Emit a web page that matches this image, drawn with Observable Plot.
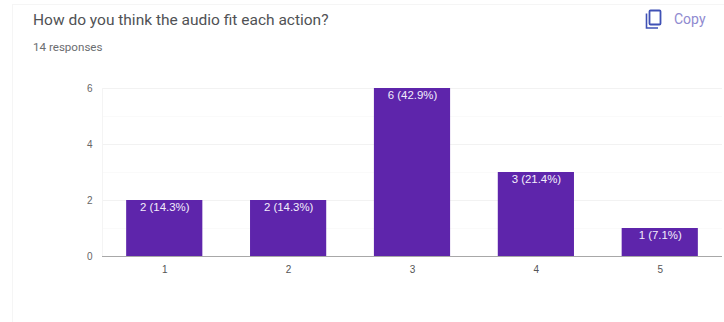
<!DOCTYPE html>
<html>
<head>
<meta charset="utf-8">
<script src="https://cdn.jsdelivr.net/npm/d3@7"></script>
<script src="https://cdn.jsdelivr.net/npm/@observablehq/plot@0.6"></script>
<style>
html,body{margin:0;padding:0;background:#fff;width:724px;height:322px;overflow:hidden}
#wrap{position:relative;width:724px;height:322px}
#card{position:absolute;left:12px;top:4px;width:720px;height:330px;border:1px solid #f5f5f5;box-sizing:border-box}
#title{position:absolute;left:33px;top:11px;font:15.5px Roboto,sans-serif;color:#505255;white-space:nowrap}
#sub{position:absolute;left:33px;top:40px;font:11.6px Roboto,sans-serif;color:#6b6d70;white-space:nowrap}
#copy{position:absolute;left:674px;top:11px;font:400 14px Roboto,sans-serif;color:#8f8ad0;white-space:nowrap}
#icon{position:absolute;left:645px;top:9px}
#chart{position:absolute;left:0;top:0}
</style>
</head>
<body>
<div id="wrap">
<div id="card"></div>
<div id="chart"></div>
<div id="title">How do you think the audio fit each action?</div>
<div id="sub">14 responses</div>
<svg id="icon" width="18" height="21" viewBox="0 0 18 21"><path d="M1.5 4.5V19H13" fill="none" stroke="#3f51b5" stroke-width="1.6"/><rect x="4.5" y="1.5" width="11" height="14" fill="none" stroke="#3f51b5" stroke-width="1.8" rx="1"/></svg>
<div id="copy">Copy</div>
</div>
<script>
const categories = ["1", "2", "3", "4", "5"];
const counts = [2, 2, 6, 3, 1];
const labels = ["2 (14.3%)", "2 (14.3%)", "6 (42.9%)", "3 (21.4%)", "1 (7.1%)"];
const majorTicks = [2, 4, 6];
const minorTicks = [1, 3, 5];
const yTicks = [0, 2, 4, 6];

const rows = categories.map((c, i) => ({category: c, count: counts[i], label: labels[i]}));

const chart = Plot.plot({
  width: 724,
  height: 322,
  marginTop: 88,
  marginBottom: 66,
  marginLeft: 102,
  marginRight: 2,
  style: {background: "transparent", fontFamily: "'Liberation Sans', Arial, sans-serif", fontSize: "10px"},
  x: {domain: categories, paddingInner: 0.385, paddingOuter: 0.195, align: 0.5, round: false, label: null},
  y: {domain: [0, 6], label: null},
  marks: [
    Plot.ruleY(minorTicks, {stroke: "#fafafa"}),
    Plot.ruleY(majorTicks, {stroke: "#f2f2f2"}),
    Plot.frame({anchor: "left", stroke: "#f4f4f4"}),
    Plot.barY(rows, {x: "category", y: "count", fill: "#5e25ab"}),
    Plot.ruleY([0], {stroke: "#a8a8a8"}),
    Plot.text(rows, {x: "category", y: "count", text: "label", fill: "#f3eefb", dy: 7, fontSize: 11.4}),
    Plot.axisX({tickSize: 0, tickPadding: 9, color: "#555", label: null}),
    Plot.axisY({ticks: yTicks, tickFormat: "d", tickSize: 0, tickPadding: 10, color: "#666", label: null})
  ]
});
document.getElementById("chart").appendChild(chart);
</script>
</body>
</html>
